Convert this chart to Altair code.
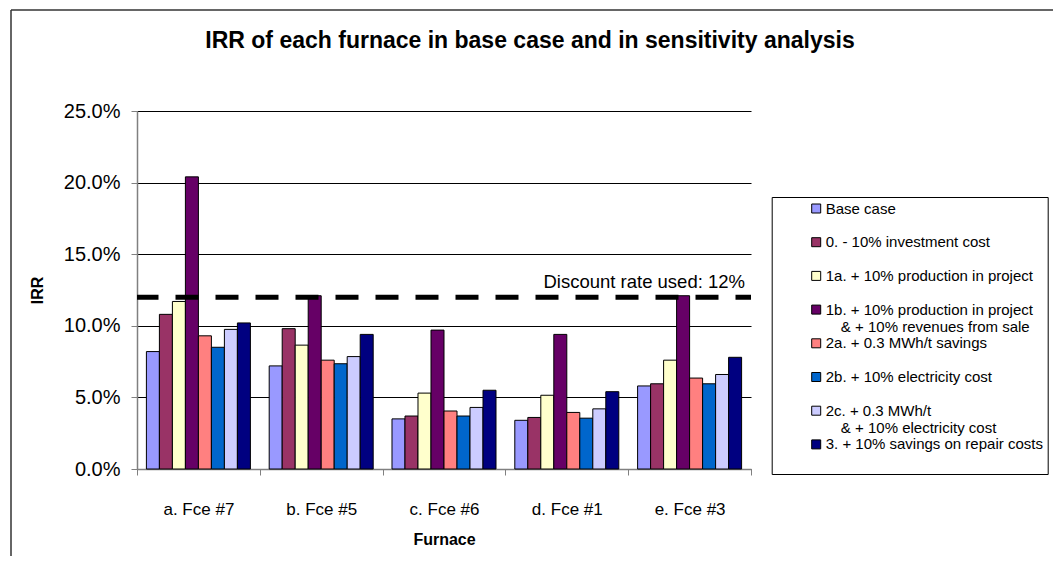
import altair as alt
import pandas as pd

furnaces = ["a. Fce #7", "b. Fce #5", "c. Fce #6", "d. Fce #1", "e. Fce #3"]

series = [
    "Base case",
    "0. - 10% investment cost",
    "1a. + 10% production in project",
    "1b. + 10% production in project\n\u2800 & + 10% revenues from sale",
    "2a. + 0.3 MWh/t savings",
    "2b. + 10% electricity cost",
    "2c. + 0.3 MWh/t\n\u2800 & + 10% electricity cost",
    "3. + 10% savings on repair costs\n\u2800",
]

colors = ["#9999FF", "#993366", "#FFFFCC", "#660066", "#FF8080", "#0066CC", "#CCCCFF", "#000080"]

# IRR (%) per series, in furnace order
base_case = [8.2, 7.2, 3.5, 3.4, 5.8]
invest_minus10 = [10.8, 9.8, 3.7, 3.6, 5.95]
prod_plus10 = [11.7, 8.65, 5.3, 5.15, 7.6]
prod_rev_plus10 = [20.4, 12.1, 9.7, 9.4, 12.1]
mwh_savings = [9.3, 7.6, 4.05, 3.95, 6.35]
elec_plus10 = [8.5, 7.35, 3.7, 3.55, 5.95]
mwh_elec = [9.75, 7.85, 4.3, 4.2, 6.6]
repair_savings = [10.2, 9.4, 5.5, 5.4, 7.8]

series_values = [base_case, invest_minus10, prod_plus10, prod_rev_plus10,
                 mwh_savings, elec_plus10, mwh_elec, repair_savings]

discount_rate = [0.12]
discount_label = ["Discount rate used: 12%"]
title_text = ["IRR of each furnace in base case and in sensitivity analysis"]

rows = []
for s, vals in zip(series, series_values):
    for f, v in zip(furnaces, vals):
        rows.append({"furnace": f, "series": s, "irr": v / 100.0})
df = pd.DataFrame(rows)
df_rate = pd.DataFrame({"rate": discount_rate, "label": discount_label})
df_title = pd.DataFrame({"title": title_text})

FONT = "Liberation Sans"

bars = alt.Chart(df).mark_bar(stroke="black", strokeWidth=1).encode(
    x=alt.X("furnace:N", sort=furnaces,
            scale=alt.Scale(paddingInner=0, paddingOuter=0),
            axis=alt.Axis(title="Furnace", labelAngle=0, tickBand="extent",
                          labelFontSize=17, labelPadding=26, tickSize=6,
                          tickColor="#808080", domainColor="#808080", domainWidth=1.5,
                          labelColor="black", titleColor="black",
                          titleFontSize=16, titleFontWeight="bold", titlePadding=14,
                          grid=False)),
    xOffset=alt.XOffset("series:N", sort=series,
                        scale=alt.Scale(paddingInner=0, paddingOuter=0.723)),
    y=alt.Y("irr:Q",
            scale=alt.Scale(domain=[0, 0.25], nice=False),
            axis=alt.Axis(title="IRR", values=[0, 0.05, 0.10, 0.15, 0.20, 0.25],
                          format=".1%", labelFontSize=20, labelPadding=11, tickSize=6,
                          tickColor="#808080", domainColor="#808080", domainWidth=1.5,
                          labelColor="black", titleColor="black",
                          gridColor="black", gridWidth=1,
                          titleFontSize=16, titleFontWeight="bold", titlePadding=18)),
    color=alt.Color("series:N", sort=series,
                    scale=alt.Scale(domain=series, range=colors),
                    legend=alt.Legend(orient="none", legendX=634.7, legendY=86,
                                      direction="vertical", title=None,
                                      labelExpr="split(datum.label, '\\n')",
                                      gridAlign="all", symbolType="square",
                                      symbolSize=81, symbolStrokeColor="black",
                                      symbolStrokeWidth=1, labelFontSize=15,
                                      labelFont=FONT, labelColor="black",
                                      labelOffset=2, labelLimit=500,
                                      strokeColor="black", padding=4,
                                      symbolOffset=33, rowPadding=0.7)),
)

rule = alt.Chart(df_rate).mark_rule(
    color="black", strokeWidth=5, strokeDash=[23, 17], strokeDashOffset=7.5
).encode(y="rate:Q")

label = alt.Chart(df_rate).mark_text(
    align="right", baseline="alphabetic", dx=-6, dy=-9, fontSize=18.5, font=FONT, color="black"
).encode(y="rate:Q", x=alt.value("width"), text="label:N")

# chart title, centred over the whole chart area
title = alt.Chart(df_title).mark_text(
    align="center", baseline="middle", fontSize=23, fontWeight="bold", font=FONT, color="black"
).encode(x=alt.value(393), y=alt.value(-70), text="title:N")

# outer chart-area frame (left and top edges)
frame_left = alt.Chart(df_rate).mark_rule(color="#333333", strokeWidth=1.5).encode(
    x=alt.value(-126), y=alt.value(-101), y2=alt.value(445)
)
frame_top = alt.Chart(df_rate).mark_rule(color="#333333", strokeWidth=1.5).encode(
    x=alt.value(-126), x2=alt.value(916), y=alt.value(-101)
)

chart = alt.layer(frame_left, frame_top, title, bars, rule, label).properties(
    width=614, height=358,
    padding={"left": 2, "top": 1, "right": 0, "bottom": 0},
).configure(font=FONT).configure_view(stroke=None).configure_axis(
    labelFont=FONT, titleFont=FONT
)

chart.save("out.html", embed_options={"renderer": "svg", "actions": False})
